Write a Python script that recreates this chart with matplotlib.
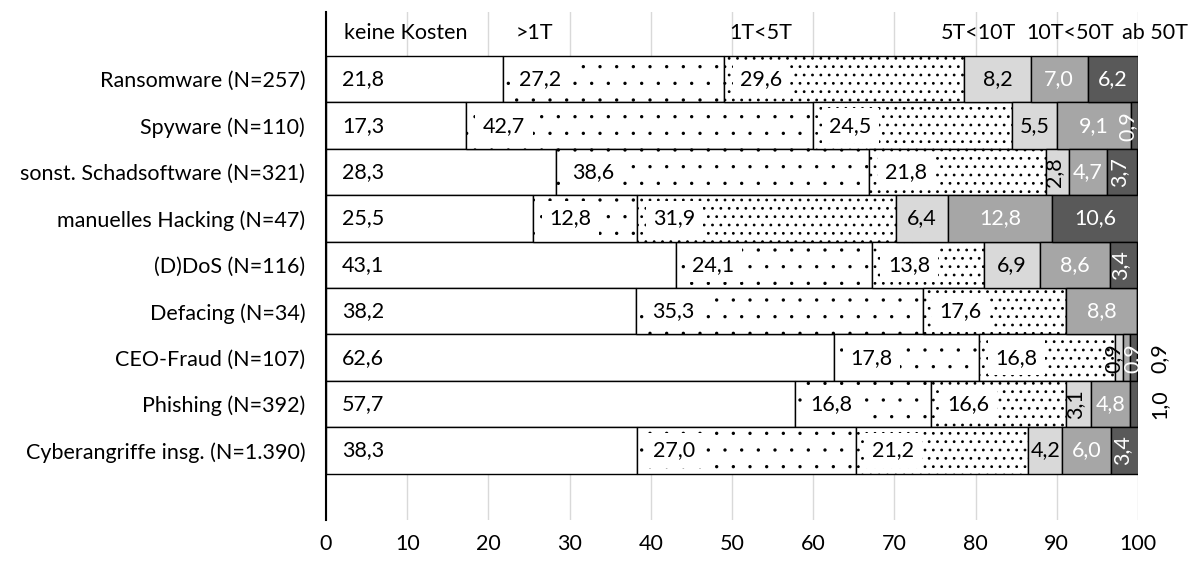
import numpy as np
import matplotlib
matplotlib.use("Agg")
import matplotlib.pyplot as plt

plt.rcParams['font.family'] = ['Lato', 'DejaVu Sans']
plt.rcParams['hatch.linewidth'] = 0.0

# data: share of cases per cost class (%)
categories = ['Ransomware (N=257)', 'Spyware (N=110)', 'sonst. Schadsoftware (N=321)',
              'manuelles Hacking (N=47)', '(D)DoS (N=116)', 'Defacing (N=34)',
              'CEO-Fraud (N=107)', 'Phishing (N=392)', 'Cyberangriffe insg. (N=1.390)']
cost_classes = ['keine Kosten', '>1T', '1T<5T', '5T<10T', '10T<50T', 'ab 50T']

keine_kosten = [21.8, 17.3, 28.3, 25.5, 43.1, 38.2, 62.6, 57.7, 38.3]
bis_1t       = [27.2, 42.7, 38.6, 12.8, 24.1, 35.3, 17.8, 16.8, 27.0]
t1_5         = [29.6, 24.5, 21.8, 31.9, 13.8, 17.6, 16.8, 16.6, 21.2]
t5_10        = [8.2, 5.5, 2.8, 6.4, 6.9, 0.0, 0.9, 3.1, 4.2]
t10_50       = [7.0, 9.1, 4.7, 12.8, 8.6, 8.8, 0.9, 4.8, 6.0]
ab_50        = [6.2, 0.9, 3.7, 10.6, 3.4, 0.0, 0.9, 1.0, 3.4]

# header label positions (x in %), labels drawn above the bars
header_x = [9.8, 25.7, 53.6, 80.3, 91.7, 102.1]
# small last-segment labels placed outside the bar (row index)
outside_rows = [6, 7]

series = [keine_kosten, bis_1t, t1_5, t5_10, t10_50, ab_50]
faces = ['white', 'white', 'white', '#d9d9d9', '#a6a6a6', '#595959']
hatches = [None, '.', '..', None, None, None]
hatch_lw = [0.0, 0.0, 0.8, 0.0, 0.0, 0.0]
txt_col = ['black', 'black', 'black', 'black', 'white', 'white']
# nudge for very thin segments' rotated labels
thin_shift = {3: -0.7, 4: 0.8, 5: -0.85}

def fmt(v):
    return f"{v:.1f}".replace('.', ',')

fig = plt.figure(figsize=(11.91, 5.64), dpi=100)
ax = fig.add_axes([326/1191, 1 - 520/564, (1138 - 326)/1191, (520 - 12)/564])

y = np.arange(len(categories))
left = np.zeros(len(categories))
FS = 15.5

for s, vals in enumerate(series):
    vals = np.array(vals)
    with plt.rc_context({'hatch.linewidth': hatch_lw[s]}):
        bars = ax.barh(y, vals, left=left, height=1.0, color=faces[s], edgecolor='black',
                       linewidth=1.0, hatch=hatches[s], zorder=2)
    for p in bars:
        if hasattr(p, 'set_hatch_linewidth'):
            p.set_hatch_linewidth(hatch_lw[s])
    for i, v in enumerate(vals):
        if v <= 0:
            continue
        x0 = left[i]
        if s <= 2:
            ax.text(x0 + 2.0, i, fmt(v), ha='left', va='center', fontsize=FS,
                    color='black', zorder=4,
                    bbox=dict(boxstyle='square,pad=0.35', fc='white', ec='none'))
        elif s == 5 and i in outside_rows:
            ax.text(102.6, i, fmt(v), ha='center', va='center', fontsize=FS,
                    rotation=90, color='black', zorder=4, clip_on=False)
        elif v < 4:
            shift = thin_shift[s] if v < 1.5 else -0.4
            ax.text(x0 + v / 2 + shift, i, fmt(v), ha='center', va='center', fontsize=FS,
                    rotation=90, color=txt_col[s], zorder=4, clip_on=False)
        else:
            ax.text(x0 + v / 2, i, fmt(v), ha='center', va='center', fontsize=FS,
                    color=txt_col[s], zorder=4)
    left = left + vals

for lab, hx in zip(cost_classes, header_x):
    ax.text(hx, -1, lab, ha='center', va='center', fontsize=FS, zorder=4)

ax.set_xlim(0, 100)
ax.set_ylim(9.5, -1.45)
ax.set_xticks(np.arange(0, 101, 10))
ax.set_yticks(y)
ax.set_yticklabels(categories)
ax.tick_params(axis='both', length=0, labelsize=FS)
ax.tick_params(axis='x', pad=10)
ax.tick_params(axis='y', pad=15)
ax.grid(axis='x', color='#d9d9d9', linewidth=1.0, zorder=0)
ax.set_axisbelow(True)
for sp in ['top', 'right', 'bottom']:
    ax.spines[sp].set_visible(False)
ax.spines['left'].set_linewidth(1.5)

fig.savefig('out.png', dpi=100)
